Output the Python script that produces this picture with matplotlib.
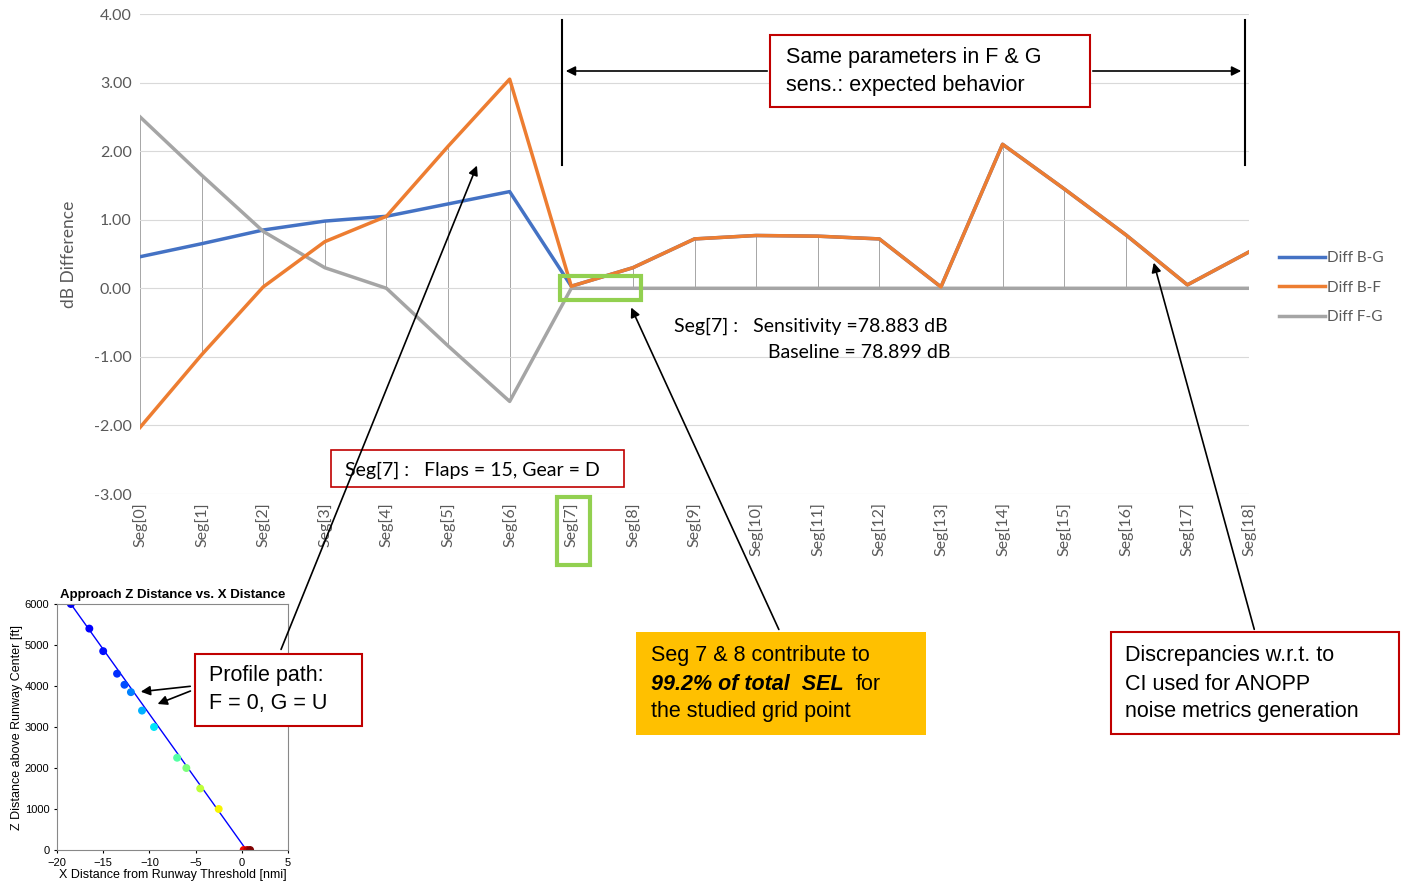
import matplotlib
matplotlib.use("Agg")
import matplotlib.pyplot as plt
import numpy as np
from matplotlib.patches import Rectangle

segs = [f"Seg[{i}]" for i in range(19)]
diff_bf = [-2.03, -0.97, 0.02, 0.68, 1.05, 2.07, 3.05, 0.03, 0.30, 0.72, 0.77, 0.76, 0.72, 0.02, 2.10, 1.45, 0.78, 0.05, 0.53]
diff_fg = [2.50, 1.65, 0.83, 0.30, 0.00, -0.84, -1.65, 0, 0, 0, 0, 0, 0, 0, 0, 0, 0, 0, 0]
diff_bg = [0.46, 0.65, 0.85, 0.98, 1.05, 1.23, 1.41, 0.03, 0.30, 0.72, 0.77, 0.76, 0.72, 0.02, 2.10, 1.45, 0.78, 0.05, 0.53]
yticks = [4, 3, 2, 1, 0, -1, -2, -3]

inset_x = [-18.5, -16.5, -15, -13.5, -12.7, -12, -10.8, -9.5, -7, -6, -4.5, -2.5, 0.2, 0.6, 0.9]
inset_z = [6000, 5400, 4850, 4300, 4030, 3850, 3400, 3000, 2250, 2000, 1500, 1000, 0, 0, 0]
inset_c = [0.10, 0.12, 0.14, 0.17, 0.20, 0.25, 0.30, 0.35, 0.45, 0.50, 0.58, 0.65, 0.90, 0.95, 1.0]

W, H = 1403, 893
fig = plt.figure(figsize=(W/100, H/100), dpi=100)
plt.rcParams['font.family'] = ['Lato', 'DejaVu Sans']
ARIAL = ['Liberation Sans', 'DejaVu Sans']

def fr(l, t, r, b):
    return [l/W, 1-b/H, (r-l)/W, (b-t)/H]

ax = fig.add_axes(fr(140, 14, 1249, 494))
x = np.arange(len(segs))
for i in x:
    vals = [diff_bf[i], diff_fg[i], diff_bg[i]]
    ax.plot([i, i], [min(vals), max(vals)], color='#a6a6a6', lw=0.7, zorder=1)
ax.plot(x, diff_bg, color='#4472c4', lw=2.5, label='Diff B-G', zorder=3)
ax.plot(x, diff_bf, color='#ed7d31', lw=2.5, label='Diff B-F', zorder=4)
ax.plot(x, diff_fg, color='#a5a5a5', lw=2.5, label='Diff F-G', zorder=3)
ax.set_xlim(0, 18)
ax.set_ylim(-3, 4)
ax.set_yticks(yticks)
ax.set_yticklabels([f"{v:.2f}" for v in yticks], color='#595959', fontsize=11.5)
ax.set_xticks(x)
ax.set_xticklabels(segs, rotation=90, color='#595959', fontsize=11.5)
ax.tick_params(length=0, pad=6)
ax.grid(axis='y', color='#d9d9d9', lw=0.8)
for s in ax.spines.values():
    s.set_visible(False)
ax.set_ylabel('dB Difference', color='#595959', fontsize=12.5, labelpad=12)
ax.legend(loc='center left', bbox_to_anchor=(1.015, 0.43), frameon=False,
          fontsize=11, labelcolor='#595959', handlelength=3, handletextpad=0.1, labelspacing=1.0)

# inset
ia = fig.add_axes(fr(57, 604, 288, 850))
ia.plot([-18.5, 0.5], [6000, 0], color='blue', lw=1, zorder=1)
ia.scatter(inset_x, inset_z, c=inset_c, cmap='jet', vmin=0, vmax=1, s=22, zorder=2)
ia.set_xlim(-20, 5)
ia.set_ylim(0, 6000)
ia.set_xticks([-20, -15, -10, -5, 0, 5])
ia.set_yticks(range(0, 6001, 1000))
ia.tick_params(labelsize=8, length=2)
ia.set_title('Approach Z Distance vs. X Distance', fontsize=9.5, fontweight='bold', pad=4, family=ARIAL)
ia.set_xlabel('X Distance from Runway Threshold [nmi]', fontsize=9, labelpad=1, family=ARIAL)
ia.set_ylabel('Z Distance above Runway Center [ft]', fontsize=9, labelpad=1, family=ARIAL)
for lab in ia.get_xticklabels() + ia.get_yticklabels():
    lab.set_family(ARIAL)
for s in ia.spines.values():
    s.set_color('#888888')

# overlay
ov = fig.add_axes([0, 0, 1, 1], facecolor='none')
ov.set_xlim(0, W); ov.set_ylim(H, 0); ov.axis('off')

def box(l, t, r, b, ec, fc='white', lw=1.5):
    ov.add_patch(Rectangle((l, t), r-l, b-t, ec=ec, fc=fc, lw=lw, zorder=5))

def arrow(x0, y0, x1, y1):
    ov.annotate('', xy=(x1, y1), xytext=(x0, y0),
                arrowprops=dict(arrowstyle='-|>', color='black', lw=1.2, mutation_scale=14), zorder=6)

def t(xp, yp, s, size=15.5, fam=ARIAL, **kw):
    ov.text(xp, yp, s, fontsize=size, va='center', family=fam, zorder=7, **kw)

ov.plot([562, 562], [20, 165], color='black', lw=1.5)
ov.plot([1245, 1245], [20, 165], color='black', lw=1.5)
arrow(770, 71, 563, 71)
arrow(1090, 71, 1244, 71)
box(770, 35, 1090, 107, '#c00000')
t(786, 57, 'Same parameters in F & G')
t(786, 86, 'sens.: expected behavior')

ov.add_patch(Rectangle((560, 276), 81, 24, ec='#92d050', fc='none', lw=3, zorder=7))
ov.add_patch(Rectangle((557, 497), 33, 68, ec='#92d050', fc='none', lw=3, zorder=7))

t(674, 326, 'Seg[7] :   Sensitivity =78.883 dB', size=14, fam=['Lato', 'DejaVu Sans'])
t(768, 353, 'Baseline = 78.899 dB', size=14, fam=['Lato', 'DejaVu Sans'])

box(331, 450, 624, 487, '#c00000', lw=1.2)
t(345, 470, 'Seg[7] :   Flaps = 15, Gear = D', size=14, fam=['Lato', 'DejaVu Sans'])

arrow(280, 652, 478, 163)
arrow(193, 686, 138, 692)
arrow(193, 690, 155, 705)
box(195, 654, 362, 726, '#c00000')
t(209, 676, 'Profile path:')
t(209, 704, 'F = 0, G = U')

arrow(780, 632, 630, 305)
box(636, 632, 926, 735, '#ffc000', fc='#ffc000', lw=0)
t(651, 655, 'Seg 7 & 8 contribute to')
t(651, 684, '99.2% of total  SEL', fontweight='bold', style='italic')
t(856, 684, 'for')
t(651, 712, 'the studied grid point')

arrow(1255, 632, 1153, 260)
box(1111, 632, 1399, 734, '#c00000')
t(1125, 655, 'Discrepancies w.r.t. to')
t(1125, 684, 'CI used for ANOPP')
t(1125, 712, 'noise metrics generation')

fig.savefig('out.png', dpi=100)
